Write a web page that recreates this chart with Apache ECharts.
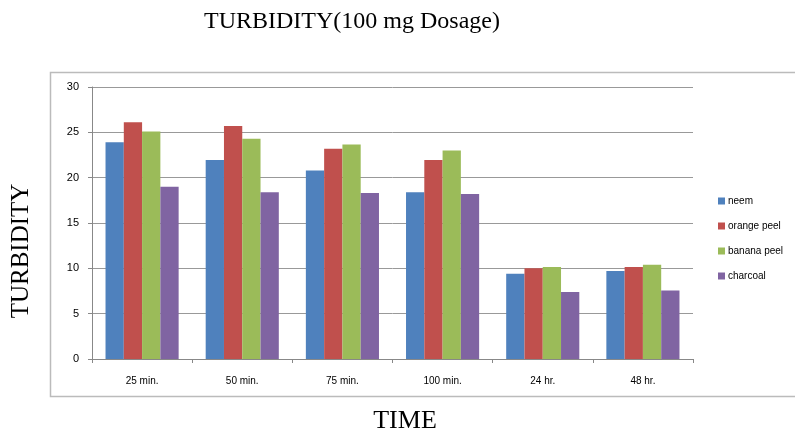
<!DOCTYPE html>
<html>
<head>
<meta charset="utf-8">
<script src="https://cdn.jsdelivr.net/npm/echarts@6/dist/echarts.min.js"></script>
<style>
  html, body { margin: 0; padding: 0; background: #fff; }
  #main { width: 795px; height: 435px; }
</style>
</head>
<body>
<div id="main"></div>
<script>
// data
const timeLabels = ['25 min.', '50 min.', '75 min.', '100 min.', '24 hr.', '48 hr.'];
const neem = [23.9, 21.95, 20.8, 18.4, 9.4, 9.7];
const orangePeel = [26.1, 25.7, 23.2, 21.95, 10.0, 10.15];
const bananaPeel = [25.1, 24.3, 23.65, 23.0, 10.15, 10.4];
const charcoal = [19.0, 18.4, 18.3, 18.2, 7.4, 7.55];

const chart = echarts.init(document.getElementById('main'));

function bar(name, data, color) {
  return {
    name: name,
    type: 'bar',
    data: data,
    barGap: '0%',
    barCategoryGap: '27%',
    itemStyle: { color: color },
    emphasis: { disabled: true }
  };
}

chart.setOption({
  animation: false,
  title: {
    text: 'TURBIDITY(100 mg Dosage)',
    left: 347,
    textAlign: 'center',
    top: 5,
    textStyle: { fontFamily: 'Liberation Serif', fontWeight: 'normal', fontSize: 24, color: '#000' }
  },
  graphic: [
    {
      type: 'rect',
      shape: { x: 50.5, y: 72.5, width: 780, height: 324 },
      style: { fill: 'none', stroke: '#bbb', lineWidth: 1.5 },
      z: -1
    },
    {
      type: 'text',
      x: 21, y: 251,
      rotation: Math.PI / 2,
      style: { text: 'TURBIDITY', fontFamily: 'Liberation Serif', fontSize: 25, fill: '#000', align: 'center', verticalAlign: 'middle' }
    },
    {
      type: 'text',
      x: 405, y: 421,
      style: { text: 'TIME', fontFamily: 'Liberation Serif', fontSize: 26, fill: '#000', align: 'center', verticalAlign: 'middle' }
    }
  ],
  legend: {
    orient: 'vertical',
    left: 713,
    top: 191,
    itemWidth: 7,
    itemHeight: 7,
    itemGap: 15,
    icon: 'rect',
    textStyle: { fontFamily: 'Liberation Sans', fontSize: 10, color: '#000', padding: [0, 0, 0, -2] },
    data: ['neem', 'orange peel', 'banana peel', 'charcoal']
  },
  grid: { left: 92, right: 102, top: 87, bottom: 76 },
  xAxis: {
    type: 'category',
    data: timeLabels,
    axisLine: { lineStyle: { color: '#888' } },
    axisTick: { show: true, length: 4, lineStyle: { color: '#888' } },
    axisLabel: { fontFamily: 'Liberation Sans', fontSize: 10, color: '#000', margin: 17 }
  },
  yAxis: {
    type: 'value',
    min: 0,
    max: 30,
    interval: 5,
    axisLine: { show: true, lineStyle: { color: '#888' } },
    axisTick: { show: true, length: 4, lineStyle: { color: '#888' } },
    axisLabel: { fontFamily: 'Liberation Sans', fontSize: 11, color: '#000', margin: 13 },
    splitLine: { lineStyle: { color: '#999' } }
  },
  series: [
    bar('neem', neem, '#4F81BD'),
    bar('orange peel', orangePeel, '#C0504D'),
    bar('banana peel', bananaPeel, '#9BBB59'),
    bar('charcoal', charcoal, '#8064A2')
  ]
});
</script>
</body>
</html>
